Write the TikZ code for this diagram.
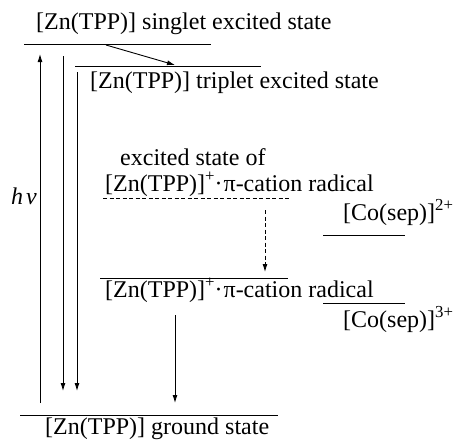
\documentclass[tikz,border=0pt]{standalone}
\usepackage{fontspec}
\setmainfont{Liberation Serif}
\usetikzlibrary{arrows.meta}
\newcommand{\ZnRad}{[Zn(TPP)]\textsuperscript{+}\kern-0.5pt·\kern1pt π-cation radical}
\begin{document}
\begin{tikzpicture}[x=1pt,y=-1pt,
  font=\fontsize{24}{27}\selectfont,
  lvl/.style={line width=0.9pt},
  dlvl/.style={line width=0.9pt,dash pattern=on 4pt off 2.5pt},
  arr/.style={line width=0.9pt,-{Latex[length=8pt,width=5pt]}},
  darr/.style={line width=0.9pt,dash pattern=on 4pt off 2.5pt,-{Latex[length=8pt,width=5pt]}},
  lbl/.style={anchor=base west,inner sep=0pt}]
\useasboundingbox (0,0) rectangle (461,440);
% levels
\coordinate (sA) at (24,44);   \coordinate (sB) at (211,44);
\coordinate (tA) at (75,66);   \coordinate (tB) at (261,66);
\coordinate (eA) at (103,198); \coordinate (eB) at (290,198);
\coordinate (rA) at (100,278); \coordinate (rB) at (288,278);
\coordinate (gA) at (20,415);  \coordinate (gB) at (278,415);
\coordinate (c2A) at (323,235); \coordinate (c2B) at (405,235);
\coordinate (c3A) at (323,303); \coordinate (c3B) at (405,303);
\draw[lvl] (sA) -- (sB);
\draw[lvl] (tA) -- (tB);
\draw[dlvl] (eA) -- (eB);
\draw[lvl] (rA) -- (rB);
\draw[lvl] (gA) -- (gB);
\draw[lvl] (c2A) -- (c2B);
\draw[lvl] (c3A) -- (c3B);
% labels
\node[lbl] (ls) at (36,29) {[Zn(TPP)] singlet excited state};
\node[lbl] (lt) at (90,88) {[Zn(TPP)] triplet excited state};
\node[lbl] (le1) at (120,165) {excited state of};
\node[lbl] (le2) at (105,191) {\ZnRad};
\node[lbl] (lr) at (105,297) {\ZnRad};
\node[lbl] (lg) at (45,434) {[Zn(TPP)] ground state};
\node[lbl] (lc2) at (343,220) {[Co(sep)]\textsuperscript{2+}};
\node[lbl] (lc3) at (343,327) {[Co(sep)]\textsuperscript{3+}};
\node[anchor=east,inner sep=0pt] (hv) at (37,196) {\textit{h\kern3pt ν}};
% arrow end points
\coordinate (up0) at (40,403);  \coordinate (up1) at (40,54);
\coordinate (d1a) at (63,56);   \coordinate (d1b) at (63,391);
\coordinate (d2a) at (77,72);   \coordinate (d2b) at (77,391);
\coordinate (isa) at (106,45);  \coordinate (isb) at (175,65);
\coordinate (dda) at (265,210); \coordinate (ddb) at (265,272);
\coordinate (rga) at (175,315); \coordinate (rgb) at (175,403);
\draw[arr] (up0) -- (up1);
\draw[arr] (d1a) -- (d1b);
\draw[arr] (d2a) -- (d2b);
\draw[arr] (isa) -- (isb);
\draw[darr] (dda) -- (ddb);
\draw[arr] (rga) -- (rgb);
\end{tikzpicture}
\end{document}
